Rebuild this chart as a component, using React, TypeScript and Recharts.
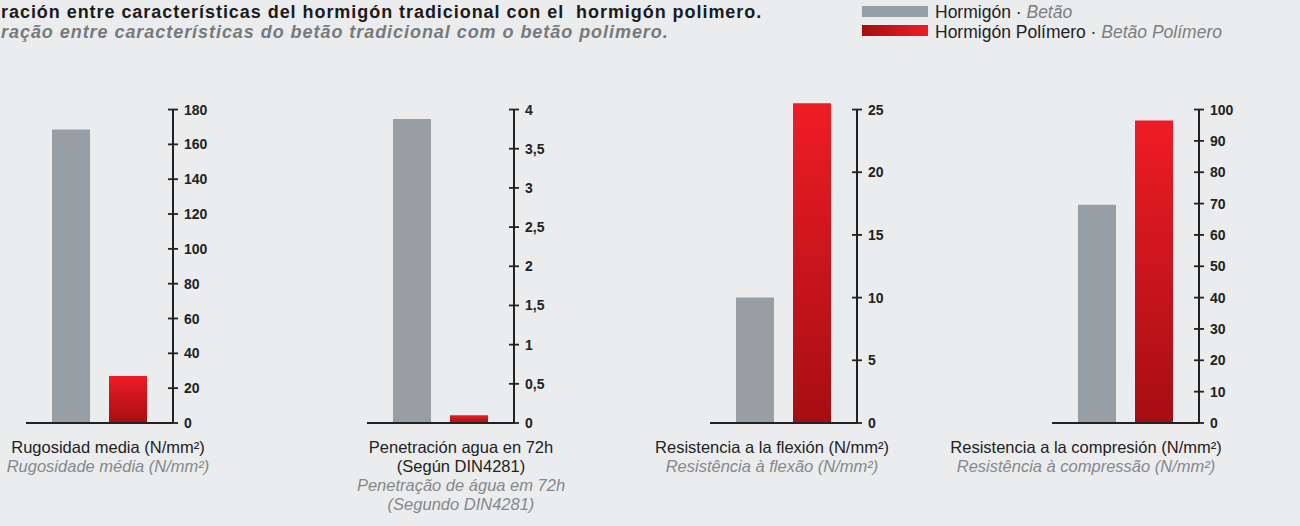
import React from 'react';
import { BarChart, Bar, XAxis, YAxis, ReferenceLine } from 'recharts';

// ---- data ----
const panelKeys = ['rugosidad', 'penetracion', 'flexion', 'compresion'];
const hormigonValues = [168.5, 3.88, 10, 69.6];
const polimeroValues = [27, 0.1, 25.5, 96.5];
const ticksRugosidad = [0, 20, 40, 60, 80, 100, 120, 140, 160, 180];
const ticksPenetracion = [0, 0.5, 1, 1.5, 2, 2.5, 3, 3.5, 4];
const ticksFlexion = [0, 5, 10, 15, 20, 25];
const ticksCompresion = [0, 10, 20, 30, 40, 50, 60, 70, 80, 90, 100];
const labelsEs = [
  ['Rugosidad media (N/mm²)'],
  ['Penetración agua en 72h', '(Según DIN4281)'],
  ['Resistencia a la flexión (N/mm²)'],
  ['Resistencia a la compresión (N/mm²)'],
];
const labelsPt = [
  ['Rugosidade média (N/mm²)'],
  ['Penetração de água em 72h', '(Segundo DIN4281)'],
  ['Resistência à flexão (N/mm²)'],
  ['Resistência à compressão (N/mm²)'],
];
const seriesEs = ['Hormigón', 'Hormigón Polímero'];
const seriesPt = ['Betão', 'Betão Polímero'];
const titleEs = 'ración entre características del hormigón tradicional con el  hormigón polimero.';
const titlePt = 'ração entre características do betão tradicional com o betão polimero.';

// ---- layout / style ----
const tickLists = [ticksRugosidad, ticksPenetracion, ticksFlexion, ticksCompresion];
const panelLeft = [26, 367, 710, 1052];
const labelCenter = [108, 461, 772, 1086];
const PLOT_W = 147;
const YAXIS_W = 60;
const HEADROOM = 1.04;
const MARGIN_TOP = 97;
const PLOT_H = 326;
const FONT = '"Liberation Sans", Arial, Helvetica, sans-serif';
const INK = '#222222';
const GRAY = '#989fa4';
const BG = '#ebecee';

const fmt = (v: number) => String(v).replace('.', ',');

const AxisTick = (props: any) => {
  const { x, y, payload } = props;
  return (
    <g>
      <line x1={x - 5} x2={x + 5} y1={y} y2={y} stroke={INK} strokeWidth={1.8} />
      <text
        x={x + 11}
        y={y}
        dy="0.36em"
        fontFamily={FONT}
        fontWeight="bold"
        fontSize={14}
        fill={INK}
        textAnchor="start"
      >
        {fmt(payload.value)}
      </text>
    </g>
  );
};

function Panel({ i }: { i: number }) {
  const ticks = tickLists[i];
  const top = ticks[ticks.length - 1];
  const data = [{ name: panelKeys[i], hormigon: hormigonValues[i], polimero: polimeroValues[i] }];
  const gid = `redGrad-${i}`;
  return (
    <div style={{ position: 'absolute', left: panelLeft[i], top: 0 }}>
      <BarChart
        width={PLOT_W + YAXIS_W}
        height={MARGIN_TOP + PLOT_H + 1 + 20}
        data={data}
        margin={{ top: MARGIN_TOP, right: 0, left: 0, bottom: 20 }}
        barSize={38}
        barGap={19}
      >
        <defs>
          <linearGradient id={gid} x1="0" y1="0" x2="0" y2="1">
            <stop offset="0%" stopColor="#ee1c25" />
            <stop offset="100%" stopColor="#a50e13" />
          </linearGradient>
        </defs>
        <XAxis
          dataKey="name"
          height={1}
          tick={false}
          tickLine={false}
          axisLine={{ stroke: INK, strokeWidth: 2 }}
        />
        <YAxis
          orientation="right"
          width={YAXIS_W}
          domain={[0, top * HEADROOM]}
          ticks={ticks}
          interval={0}
          axisLine={false}
          tickLine={false}
          tickSize={0}
          tickMargin={0}
          tick={(p: any) => <AxisTick {...p} />}
        />
        <Bar dataKey="hormigon" name={seriesEs[0]} fill={GRAY} isAnimationActive={false} />
        <Bar dataKey="polimero" name={seriesEs[1]} fill={`url(#${gid})`} isAnimationActive={false} />
        <ReferenceLine
          segment={[
            { x: panelKeys[i], y: 0 },
            { x: panelKeys[i], y: top },
          ]}
          position="end"
          ifOverflow="visible"
          stroke={INK}
          strokeWidth={2}
        />
      </BarChart>
    </div>
  );
}

export default function App() {
  return (
    <div
      style={{
        position: 'absolute',
        left: 0,
        top: 0,
        width: 1300,
        height: 526,
        overflow: 'hidden',
        background: BG,
        fontFamily: FONT,
      }}
    >
      {[0, 1, 2, 3].map((i) => (
        <Panel key={i} i={i} />
      ))}

      {/* title */}
      <div
        style={{
          position: 'absolute',
          left: 1,
          top: 2,
          fontSize: 18,
          lineHeight: '20.2px',
          fontWeight: 'bold',
          letterSpacing: 0.95,
          whiteSpace: 'pre',
        }}
      >
        <div style={{ color: '#1b1b1b' }}>{titleEs}</div>
        <div style={{ color: '#777a7c', fontStyle: 'italic' }}>{titlePt}</div>
      </div>

      {/* legend */}
      <div style={{ position: 'absolute', left: 862, top: 6, width: 66, height: 11, background: GRAY }} />
      <div
        style={{
          position: 'absolute',
          left: 862,
          top: 25,
          width: 66,
          height: 11,
          background: 'linear-gradient(to right, #a50e13, #ee1c25)',
        }}
      />
      <div
        style={{
          position: 'absolute',
          left: 935,
          top: 3,
          fontSize: 17.5,
          lineHeight: '19.6px',
          whiteSpace: 'pre',
          color: INK,
        }}
      >
        {seriesEs.map((s, k) => (
          <div key={k}>
            {s} ·{' '}
            <span style={{ fontStyle: 'italic', color: '#7b7e80' }}>{seriesPt[k]}</span>
          </div>
        ))}
      </div>

      {/* category labels */}
      {[0, 1, 2, 3].map((i) => (
        <div
          key={i}
          style={{
            position: 'absolute',
            left: labelCenter[i] - 160,
            width: 320,
            top: 438,
            textAlign: 'center',
            fontSize: 16.5,
            lineHeight: '19px',
          }}
        >
          {labelsEs[i].map((t, k) => (
            <div key={'e' + k} style={{ color: INK }}>
              {t}
            </div>
          ))}
          {labelsPt[i].map((t, k) => (
            <div key={'p' + k} style={{ color: '#85888a', fontStyle: 'italic' }}>
              {t}
            </div>
          ))}
        </div>
      ))}
    </div>
  );
}
